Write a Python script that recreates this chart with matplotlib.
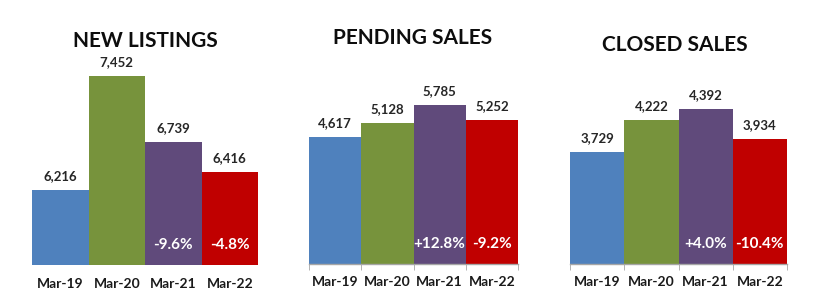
import matplotlib
matplotlib.use('Agg')
import matplotlib.pyplot as plt
import matplotlib.transforms as mtransforms

plt.rcParams['font.family'] = ['Lato', 'DejaVu Sans']

months = ['Mar-19', 'Mar-20', 'Mar-21', 'Mar-22']
bar_colors = ['#4F81BD', '#77933C', '#604A7B', '#C00000']

titles = ['NEW LISTINGS', 'PENDING SALES', 'CLOSED SALES']
new_listings = [6216, 7452, 6739, 6416]
pending_sales = [4617, 5128, 5785, 5252]
closed_sales = [3729, 4222, 4392, 3934]
new_listings_pct = ['', '', '-9.6%', '-4.8%']
pending_sales_pct = ['', '', '+12.8%', '-9.2%']
closed_sales_pct = ['', '', '+4.0%', '-10.4%']

W, H = 826, 300
fig = plt.figure(figsize=(W / 100, H / 100), dpi=100)

# (left px, right px, baseline px, ylim, show axis line, title x px, title y px)
panels = [
    (32, 258, 265, (5400, 7750), False, 145, 41),
    (309, 518, 264, (0, 7830), True, 413, 38),
    (570, 787, 264, (2000, 5318), True, 675, 45),
]
series = [new_listings, pending_sales, closed_sales]
pcts = [new_listings_pct, pending_sales_pct, closed_sales_pct]

for (l, r, base, ylim, axis_line, tx, ty), vals, pct, title in zip(panels, series, pcts, titles):
    top = 49
    ax = fig.add_axes([l / W, 1 - base / H, (r - l) / W, (base - top) / H])
    ax.bar(range(4), vals, width=1.0, color=bar_colors)
    ax.set_xlim(-0.5, 3.5)
    ax.set_ylim(*ylim)
    for s in ['top', 'left', 'right']:
        ax.spines[s].set_visible(False)
    ax.set_yticks([])
    if axis_line:
        ax.spines['bottom'].set_color('#A6A6A6')
        ax.spines['bottom'].set_linewidth(1)
        ax.set_xticks([-0.5, 0.5, 1.5, 2.5, 3.5], minor=True)
        ax.tick_params(axis='x', which='minor', length=4, color='#A6A6A6', direction='out')
    else:
        ax.spines['bottom'].set_visible(False)
    ax.set_xticks(range(4))
    ax.set_xticklabels(months, fontsize=10, fontweight='bold', color='#1A1A1A')
    ax.tick_params(axis='x', which='major', length=0, pad=9)

    for i, v in enumerate(vals):
        ax.annotate(f'{v:,}', (i, v), xytext=(0, 10), textcoords='offset points',
                    ha='center', va='center', fontsize=9.5, fontweight='bold', color='#262626')

    trans = mtransforms.blended_transform_factory(ax.transData, ax.transAxes)
    for i, p in enumerate(pct):
        if p:
            ax.text(i, 0.093, p, transform=trans, ha='center', va='center',
                    fontsize=11, fontweight='bold', color='white')

    fig.text(tx / W, 1 - ty / H, title, ha='center', va='center',
             fontsize=15, fontweight='bold', color='#0D0D0D')

fig.savefig('out.png', dpi=100)
